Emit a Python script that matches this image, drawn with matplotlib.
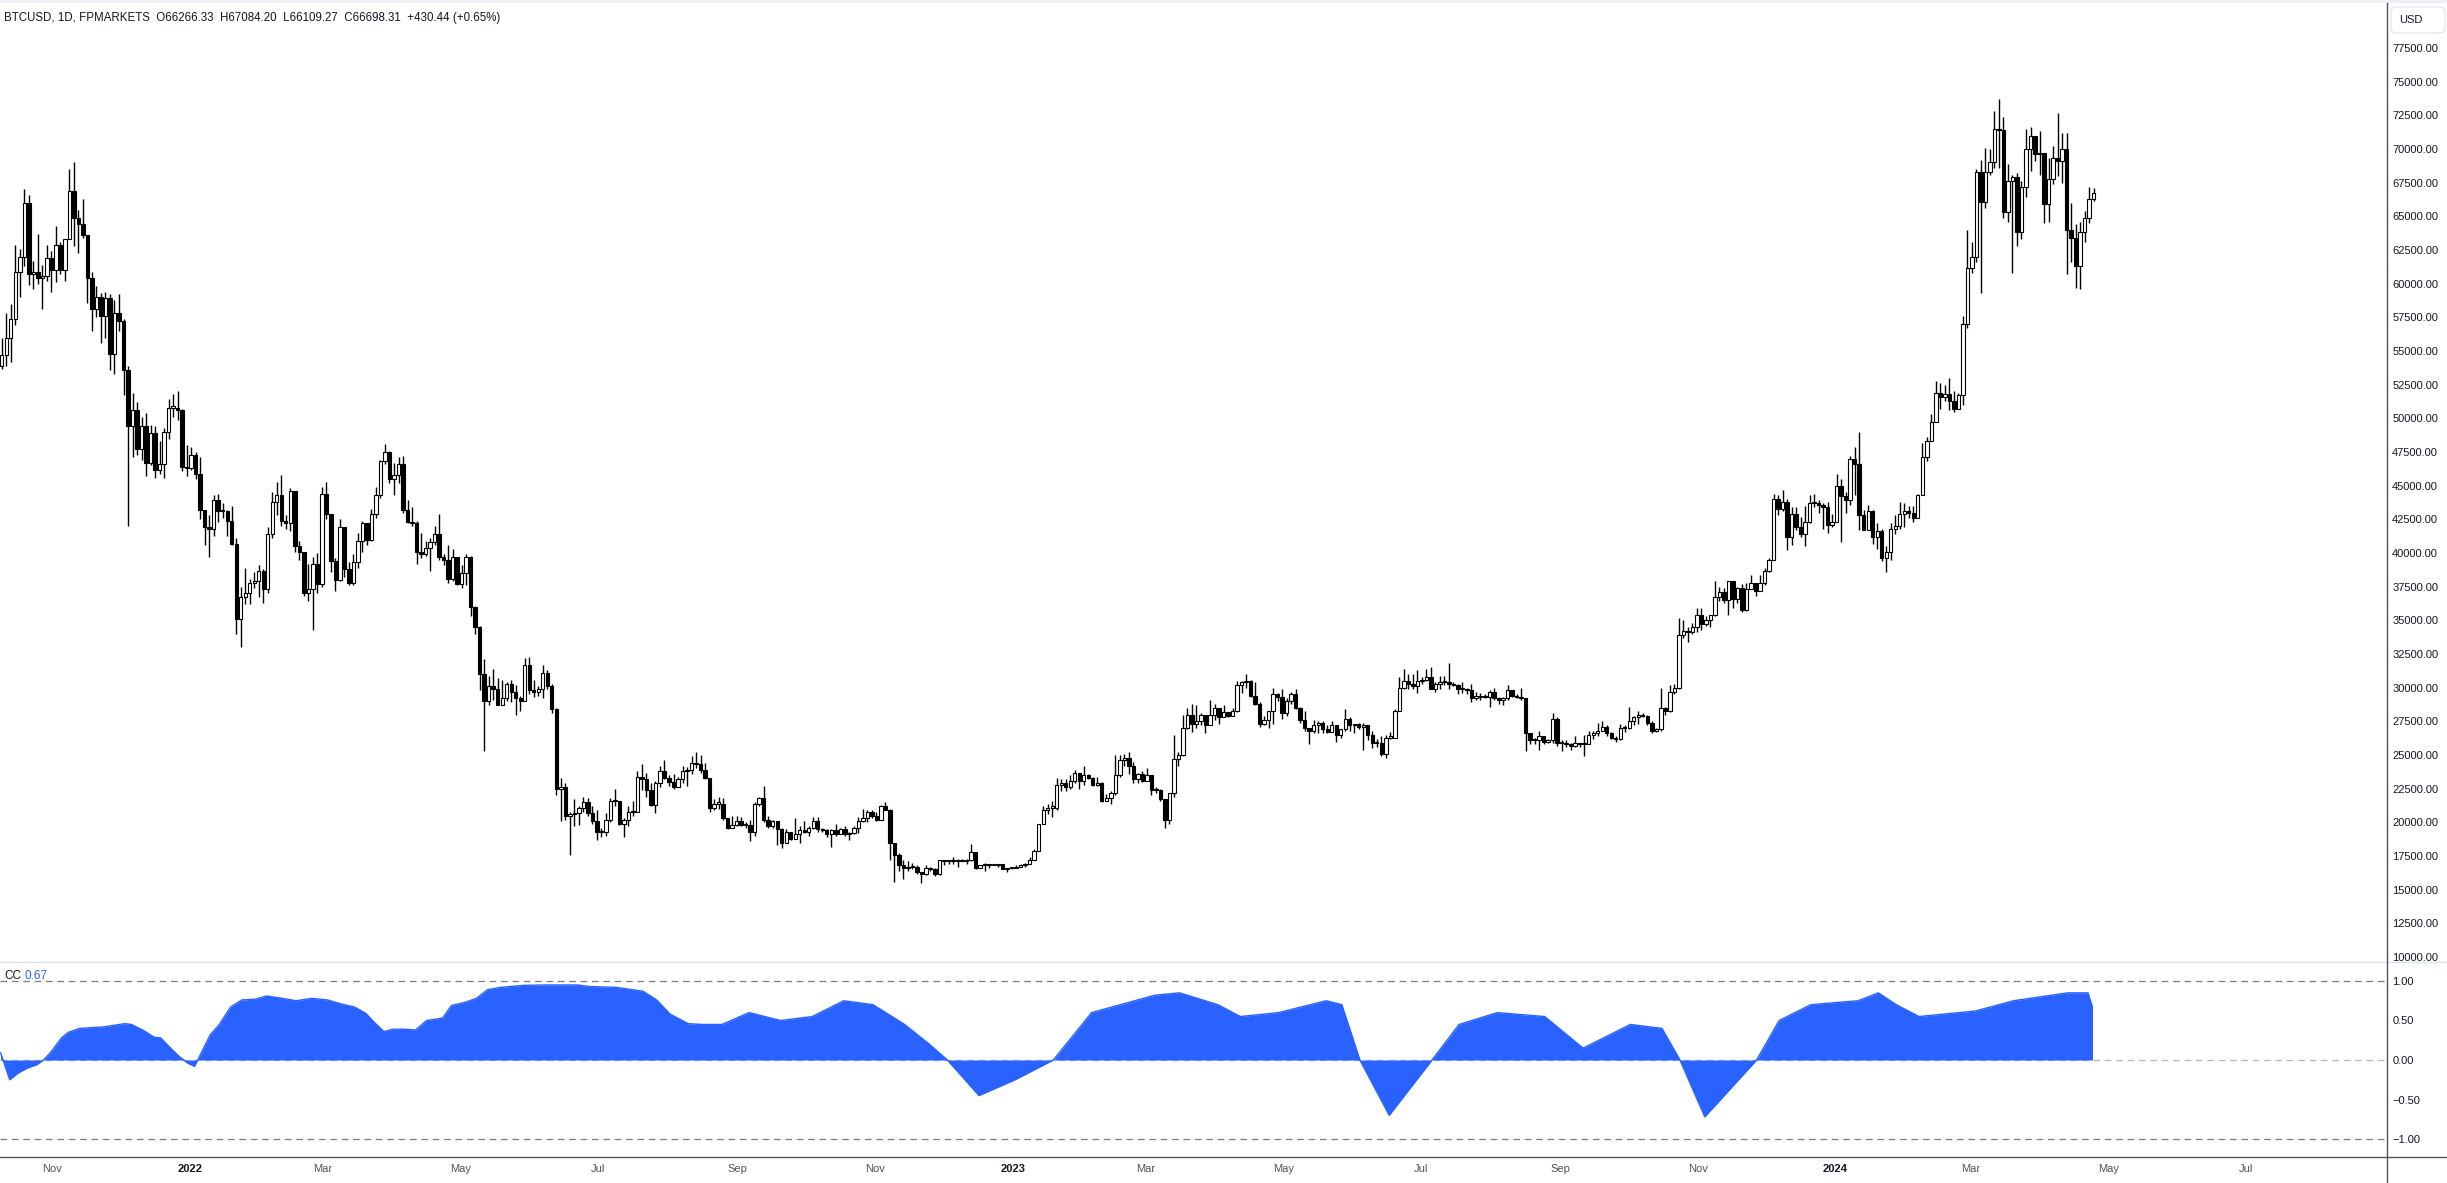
import numpy as np
import pandas as pd
import matplotlib
matplotlib.use("Agg")
import matplotlib.pyplot as plt
import matplotlib.dates as mdates
from matplotlib import font_manager
from matplotlib.lines import Line2D
from matplotlib.patches import Rectangle, FancyBboxPatch
from matplotlib.ticker import FuncFormatter

# BTCUSD candles, one candle per 2 days starting 2021-10-09 (values in thousand USD)
first_open = 53.9
close = [
    54.7, 56.0, 57.4, 60.9, 62.0, 66.0, 60.7, 60.9, 60.4, 60.6, 61.9, 61.0,  # Oct 21
    62.9, 61.0, 63.3, 66.9, 64.9, 64.4, 63.6, 60.4, 58.1, 59.0, 57.6, 58.9, 54.8, 57.8, 57.2,  # Nov
    53.6, 49.4, 50.6, 47.7, 49.4, 46.7, 48.9, 46.2, 46.6, 49.0, 50.8, 50.8, 50.6, 46.4, 46.3,  # Dec
    47.3, 45.9, 43.2, 41.9, 41.8, 43.9, 43.1, 43.1, 42.4, 40.7, 35.1, 36.7, 37.0, 37.8, 37.9, 38.7,  # Jan 22
    37.3, 41.4, 43.8, 44.3, 42.4, 42.2, 44.6, 40.5, 40.1, 37.0, 37.3, 39.2, 37.7, 44.4,  # Feb
    42.9, 39.4, 38.0, 41.9, 38.8, 37.8, 39.3, 40.9, 42.2, 41.0, 42.9, 44.3, 46.8, 47.5, 45.5,  # Mar
    45.8, 46.6, 43.2, 42.3, 42.2, 40.1, 39.9, 40.4, 40.8, 41.4, 39.7, 39.5, 38.1, 39.7, 37.7,  # Apr
    38.5, 39.7, 36.0, 34.5, 31.0, 29.0, 30.1, 29.9, 28.7, 29.2, 30.3, 29.7, 29.2, 29.0, 31.7, 29.8,  # May
    29.7, 29.9, 31.1, 30.1, 28.4, 22.5, 22.6, 20.5, 20.6, 20.7, 21.1, 21.5, 20.7, 20.1, 19.3,  # Jun
    19.3, 20.2, 21.6, 21.6, 19.9, 20.2, 20.8, 20.8, 23.4, 23.2, 22.4, 21.3, 22.9, 23.8, 23.3,  # Jul
    23.0, 22.6, 23.2, 23.8, 23.9, 24.4, 24.3, 23.9, 23.3, 21.1, 21.4, 21.4, 20.3, 19.6, 19.8, 20.1,  # Aug
    19.8, 19.8, 19.3, 21.4, 21.8, 20.2, 19.7, 20.1, 19.5, 18.5, 19.3, 18.8, 19.1, 19.4, 19.3,  # Sep
    19.6, 20.1, 19.5, 19.4, 19.1, 19.4, 19.1, 19.5, 19.1, 19.2, 19.6, 20.1, 20.3, 20.8, 20.5,  # Oct
    20.2, 21.2, 20.9, 18.5, 17.6, 16.8, 16.6, 16.7, 16.7, 16.3, 16.2, 16.6, 16.5, 16.2, 17.2,  # Nov
    17.1, 17.1, 17.1, 17.2, 17.1, 17.2, 17.8, 16.6, 16.8, 16.9, 16.8, 16.8, 16.9, 16.5, 16.6, 16.6,  # Dec
    16.7, 16.8, 16.9, 17.2, 17.9, 19.9, 20.9, 21.1, 21.1, 22.8, 22.9, 22.6, 23.1, 23.7, 23.1,  # Jan 23
    23.5, 23.3, 22.8, 22.9, 21.6, 21.8, 22.2, 23.5, 24.6, 24.8, 24.2, 23.2, 23.6, 23.1,  # Feb
    23.5, 22.4, 22.4, 21.7, 20.2, 22.2, 24.7, 25.0, 27.0, 28.0, 27.3, 27.5, 28.0, 27.2, 28.0, 28.5,  # Mar
    27.8, 28.2, 27.9, 28.3, 30.2, 30.4, 30.5, 29.4, 28.8, 27.3, 27.6, 28.3, 29.5, 29.3, 28.1,  # Apr
    29.0, 29.5, 28.5, 27.6, 27.0, 26.8, 27.2, 27.4, 26.9, 26.7, 27.2, 26.5, 26.9, 27.7, 27.2,  # May
    27.3, 27.1, 27.2, 26.5, 25.9, 25.9, 25.1, 26.3, 26.3, 28.3, 30.0, 30.5, 30.3, 30.1, 30.5,  # Jun
    30.6, 30.8, 29.9, 30.3, 30.4, 30.4, 30.3, 30.2, 29.9, 29.9, 29.8, 29.2, 29.4, 29.3, 29.3, 29.7,  # Jul
    29.2, 29.1, 29.2, 29.8, 29.4, 29.3, 29.2, 26.6, 26.1, 26.1, 26.4, 26.0, 26.1, 27.7, 25.9,  # Aug
    25.9, 25.8, 25.7, 25.9, 25.8, 25.8, 26.5, 26.6, 26.8, 27.1, 26.6, 26.3, 26.2, 27.0, 27.0,  # Sep
    27.5, 27.8, 28.0, 27.9, 27.4, 26.8, 26.9, 28.5, 28.3, 29.7, 30.0, 33.9, 34.2, 34.1, 34.5, 35.4,  # Oct
    34.7, 35.0, 35.4, 36.7, 37.1, 36.5, 37.9, 36.6, 37.4, 35.8, 37.3, 37.8, 37.2, 37.8, 38.7,  # Nov
    39.5, 44.0, 43.3, 43.8, 41.2, 42.9, 41.9, 41.4, 42.3, 43.7, 43.7, 43.6, 43.4, 42.1, 42.3,  # Dec
    45.0, 44.2, 43.9, 47.0, 46.6, 42.8, 41.7, 43.1, 41.2, 41.6, 39.6, 40.1, 41.8, 42.0, 42.9, 43.1,  # Jan 24
    43.0, 42.6, 44.3, 47.1, 48.3, 49.7, 51.9, 51.6, 51.8, 51.3, 50.7, 51.7, 57.0, 61.2,  # Feb
    62.0, 68.3, 66.1, 68.3, 69.0, 71.5, 71.4, 65.3, 67.6, 67.9, 63.8, 67.2, 70.0, 71.0, 69.6, 69.7,  # Mar
    65.9, 67.8, 69.3, 69.1, 70.0, 64.0, 63.4, 61.3, 63.8, 64.9, 66.266, 66.698,  # Apr
]
high = [
    56.0, 57.8, 58.5, 62.9, 62.6, 67.0, 66.6, 61.7, 63.7, 61.4, 62.9, 62.4,
    64.3, 63.1, 63.3, 68.5, 69.0, 65.5, 66.3, 63.6, 60.9, 59.8, 59.3, 59.4, 59.2, 58.8, 59.2,
    57.4, 53.9, 51.9, 51.2, 50.1, 50.4, 49.5, 49.4, 48.3, 49.3, 51.4, 51.8, 52.0, 50.7, 48.0,
    47.9, 47.5, 47.1, 43.1, 42.8, 44.3, 44.4, 43.7, 43.2, 43.5, 41.1, 37.5, 38.9, 38.1, 38.6, 39.1,
    38.8, 41.9, 44.5, 45.3, 45.8, 42.8, 44.8, 44.6, 40.9, 40.1, 39.2, 39.7, 40.0, 44.9,
    45.3, 42.9, 39.6, 42.5, 41.9, 39.3, 39.9, 41.5, 42.4, 42.2, 43.3, 44.9, 46.9, 48.1, 47.6,
    46.7, 47.1, 47.2, 43.9, 43.4, 42.4, 41.5, 40.9, 41.1, 42.0, 42.9, 39.9, 40.6, 40.3, 39.2,
    39.1, 39.9, 39.8, 36.1, 34.6, 32.1, 30.9, 31.4, 30.7, 30.6, 30.4, 30.6, 30.2, 29.4, 32.2, 32.3,
    30.6, 30.1, 31.7, 31.3, 30.3, 28.5, 23.3, 22.9, 20.8, 21.7, 21.2, 21.9, 21.8, 21.2, 20.9,
    19.6, 20.7, 21.8, 22.5, 21.6, 20.3, 21.2, 21.6, 23.8, 24.3, 23.7, 22.9, 23.1, 24.2, 24.6,
    23.5, 23.6, 23.4, 24.2, 24.1, 24.9, 25.2, 25.0, 24.4, 23.2, 21.7, 21.9, 21.8, 20.3, 20.5, 20.5,
    20.4, 20.0, 20.2, 21.5, 21.9, 22.7, 20.5, 20.2, 20.1, 19.6, 19.5, 19.3, 20.3, 19.7, 20.1,
    19.7, 20.4, 20.4, 19.6, 19.5, 19.5, 19.9, 19.6, 19.7, 19.3, 19.7, 20.4, 21.0, 20.9, 20.9,
    20.8, 21.3, 21.5, 21.0, 18.5, 17.7, 17.2, 17.1, 17.0, 16.8, 16.3, 16.8, 16.7, 16.6, 17.2,
    17.2, 17.2, 17.4, 17.3, 17.3, 17.3, 18.4, 17.8, 16.8, 17.0, 16.9, 16.9, 16.9, 16.9, 16.6, 16.6,
    16.8, 16.9, 17.0, 17.4, 18.0, 19.9, 21.2, 21.4, 21.6, 23.3, 23.2, 23.2, 23.5, 23.9, 23.7,
    24.2, 23.6, 23.4, 23.4, 23.0, 22.1, 22.3, 25.0, 25.0, 25.1, 25.2, 24.5, 23.7, 23.8,
    24.0, 23.5, 22.6, 22.5, 21.7, 22.2, 26.5, 25.2, 28.0, 28.5, 28.8, 28.7, 28.1, 28.0, 29.1, 28.8,
    28.5, 28.7, 28.2, 28.5, 30.5, 30.5, 31.0, 30.6, 30.4, 28.9, 27.9, 28.3, 30.0, 29.6, 29.9,
    29.2, 29.7, 29.9, 28.6, 28.3, 27.0, 27.6, 27.5, 27.5, 27.2, 27.5, 27.2, 26.9, 28.4, 27.8,
    27.3, 27.4, 27.4, 27.1, 26.8, 26.2, 26.4, 26.5, 26.7, 28.4, 30.8, 31.4, 31.0, 31.0, 31.3,
    30.8, 31.4, 31.5, 30.4, 30.9, 30.9, 31.8, 30.4, 30.3, 30.4, 30.0, 30.3, 29.7, 29.6, 29.5, 29.8,
    30.0, 29.3, 29.3, 30.2, 29.6, 29.5, 30.0, 29.2, 26.6, 26.3, 26.8, 26.4, 26.2, 28.1, 27.8,
    26.1, 26.1, 25.9, 26.4, 25.9, 26.5, 26.8, 26.8, 27.4, 27.5, 27.2, 26.7, 26.4, 27.3, 27.2,
    28.6, 27.9, 28.3, 28.1, 28.0, 27.5, 27.0, 30.0, 28.6, 30.2, 30.3, 35.2, 35.0, 34.5, 34.8, 35.9,
    35.9, 35.3, 35.4, 37.9, 37.5, 37.4, 37.9, 37.9, 37.5, 37.7, 37.8, 38.4, 37.8, 38.4, 38.9,
    39.6, 44.4, 44.3, 44.7, 44.0, 43.4, 43.4, 42.7, 43.5, 44.3, 44.4, 43.9, 43.7, 43.8, 42.9,
    45.9, 45.5, 44.5, 47.2, 47.9, 49.0, 43.2, 43.6, 43.2, 42.2, 41.8, 40.5, 42.2, 42.8, 43.8, 43.7,
    43.5, 43.5, 44.4, 48.2, 48.6, 50.3, 52.8, 52.6, 52.5, 53.0, 52.0, 51.9, 57.6, 64.0,
    63.1, 68.5, 69.2, 70.1, 70.0, 72.8, 73.7, 72.4, 68.9, 68.1, 68.2, 67.6, 71.5, 71.6, 70.9, 71.3,
    69.7, 69.3, 70.2, 72.7, 71.2, 71.2, 66.0, 64.4, 64.6, 65.4, 67.2, 67.084,
]
low = [
    53.7, 53.9, 54.2, 56.9, 59.0, 61.3, 59.9, 59.6, 60.0, 58.1, 60.2, 59.4,
    60.1, 60.7, 60.2, 63.3, 62.8, 62.3, 63.4, 58.6, 56.5, 57.5, 55.6, 56.0, 53.6, 53.3, 56.5,
    51.7, 42.0, 47.1, 47.3, 46.9, 45.7, 46.5, 45.6, 45.9, 45.6, 48.5, 50.1, 49.9, 46.1, 45.7,
    46.2, 45.5, 42.5, 40.6, 39.7, 41.3, 42.3, 42.6, 41.3, 40.6, 34.0, 33.0, 36.2, 36.2, 37.4, 36.7,
    36.3, 37.0, 41.1, 42.8, 42.0, 41.8, 41.6, 40.1, 39.5, 36.8, 36.4, 34.3, 37.0, 37.5,
    42.5, 38.6, 37.2, 37.9, 38.2, 37.6, 37.6, 38.9, 40.1, 40.6, 40.9, 42.6, 44.1, 46.6, 45.2,
    44.3, 45.2, 43.0, 42.2, 42.0, 39.2, 39.6, 39.8, 38.7, 40.6, 39.5, 39.1, 37.8, 37.9, 37.6,
    37.4, 37.6, 35.3, 34.0, 29.8, 25.3, 28.7, 29.1, 28.7, 28.7, 29.0, 28.9, 28.0, 28.3, 29.0, 29.5,
    29.3, 29.4, 29.2, 29.9, 28.1, 22.0, 20.1, 20.2, 17.6, 19.7, 19.8, 20.8, 20.5, 19.9, 18.7,
    18.9, 19.0, 20.0, 21.2, 19.8, 18.9, 19.7, 20.5, 20.8, 22.4, 21.9, 21.2, 20.7, 22.6, 23.2,
    22.7, 22.5, 22.6, 22.9, 22.7, 23.6, 24.0, 23.7, 23.2, 20.8, 20.9, 21.0, 20.2, 19.5, 19.6, 19.7,
    19.7, 19.6, 18.6, 19.0, 21.2, 20.0, 19.6, 19.6, 18.3, 18.1, 18.5, 18.7, 18.8, 18.5, 19.2,
    19.0, 19.5, 19.3, 19.3, 18.9, 18.2, 19.0, 19.1, 19.0, 18.7, 19.1, 19.2, 20.0, 20.0, 20.3,
    20.1, 20.2, 20.9, 17.2, 15.6, 16.4, 15.8, 16.4, 16.5, 16.2, 15.5, 16.1, 16.4, 16.0, 16.1,
    16.8, 16.9, 16.9, 16.7, 17.1, 16.9, 17.1, 16.5, 16.6, 16.4, 16.6, 16.8, 16.7, 16.5, 16.3, 16.5,
    16.6, 16.7, 16.7, 16.9, 17.2, 17.9, 19.9, 20.6, 20.4, 20.9, 22.3, 22.3, 22.5, 22.9, 22.5,
    22.8, 23.2, 22.7, 22.7, 21.5, 21.6, 21.4, 22.0, 23.4, 24.2, 23.6, 22.9, 22.9, 23.0,
    23.2, 22.0, 22.2, 21.6, 19.6, 19.9, 21.9, 24.2, 24.9, 26.9, 26.7, 27.0, 27.2, 26.6, 27.2, 27.6,
    27.3, 27.8, 27.8, 27.9, 28.2, 29.6, 30.0, 29.3, 28.7, 27.1, 27.2, 27.0, 27.3, 29.0, 27.7,
    27.9, 28.8, 28.4, 27.4, 26.8, 25.8, 26.6, 26.6, 26.6, 26.6, 26.7, 26.0, 26.3, 26.8, 26.8,
    26.6, 26.9, 25.4, 26.1, 25.5, 25.6, 24.9, 24.8, 26.2, 26.3, 28.3, 29.9, 29.9, 29.9, 29.6,
    30.3, 30.5, 29.9, 29.7, 29.9, 30.2, 29.9, 30.1, 29.5, 29.6, 29.5, 28.9, 29.1, 29.1, 29.2, 28.6,
    29.1, 28.8, 28.7, 29.1, 29.3, 29.2, 29.1, 25.3, 25.8, 25.8, 25.4, 25.8, 25.9, 25.9, 25.7,
    25.3, 25.6, 25.4, 25.6, 25.6, 24.9, 25.8, 26.2, 26.4, 26.8, 26.4, 26.2, 26.0, 26.1, 26.7,
    26.9, 27.2, 27.3, 27.8, 27.2, 26.6, 26.7, 26.8, 28.0, 28.2, 29.5, 29.9, 33.7, 33.4, 34.0, 34.1,
    34.3, 34.6, 34.5, 35.3, 36.4, 36.3, 35.4, 35.9, 36.3, 35.6, 35.7, 37.3, 36.8, 37.2, 37.6,
    38.6, 39.5, 42.8, 43.1, 40.2, 40.6, 41.7, 41.2, 40.5, 42.2, 43.4, 43.0, 41.8, 41.5, 41.9,
    42.3, 40.8, 43.0, 43.6, 44.3, 41.7, 41.7, 42.1, 40.7, 40.3, 39.4, 38.6, 39.5, 41.4, 41.8, 41.9,
    42.6, 42.3, 42.6, 44.3, 46.8, 48.3, 49.7, 50.7, 51.3, 50.6, 50.5, 50.8, 51.0, 56.7,
    60.8, 61.6, 59.3, 65.6, 68.1, 68.6, 68.6, 64.9, 64.6, 60.8, 62.8, 63.3, 66.4, 68.4, 69.1, 68.1,
    64.5, 64.6, 67.4, 68.0, 67.5, 60.7, 61.6, 59.7, 59.6, 63.1, 64.5, 66.109,
]

# correlation coefficient pane
cc_dates = [
    "2021-10-09", "2021-10-13", "2021-10-17", "2021-10-21", "2021-10-25", "2021-10-28", "2021-10-31",
    "2021-11-05", "2021-11-08", "2021-11-13", "2021-11-24", "2021-12-03", "2021-12-06", "2021-12-11",
    "2021-12-16", "2021-12-19", "2021-12-22", "2021-12-27", "2021-12-31", "2022-01-03", "2022-01-06",
    "2022-01-10", "2022-01-14", "2022-01-19", "2022-01-24", "2022-01-30", "2022-02-04", "2022-02-11",
    "2022-02-17", "2022-02-24", "2022-03-03", "2022-03-09", "2022-03-15", "2022-03-20", "2022-03-24",
    "2022-03-28", "2022-04-01", "2022-04-06", "2022-04-11", "2022-04-16", "2022-04-23", "2022-04-27",
    "2022-05-03", "2022-05-08", "2022-05-13", "2022-05-19", "2022-05-29", "2022-06-08", "2022-06-22",
    "2022-06-27", "2022-07-09", "2022-07-21", "2022-07-27", "2022-08-02", "2022-08-10", "2022-08-16",
    "2022-08-25", "2022-09-06", "2022-09-20", "2022-10-04", "2022-10-18", "2022-10-31", "2022-11-14",
    "2022-11-25", "2022-12-03", "2022-12-17", "2023-01-02", "2023-01-19", "2023-02-05", "2023-03-05",
    "2023-03-16", "2023-04-02", "2023-04-12", "2023-04-29", "2023-05-20", "2023-05-27", "2023-06-04",
    "2023-06-17", "2023-07-06", "2023-07-18", "2023-08-04", "2023-08-25", "2023-09-11", "2023-10-02",
    "2023-10-16", "2023-10-24", "2023-11-04", "2023-11-27", "2023-12-07", "2023-12-21", "2024-01-11",
    "2024-01-20", "2024-01-28", "2024-02-07", "2024-03-03", "2024-03-20", "2024-04-13", "2024-04-22",
    "2024-04-24",
]
cc_values = [
    0.09, -0.25, -0.16, -0.10, -0.06, 0.00, 0.09,
    0.28, 0.35, 0.40, 0.42, 0.46, 0.45, 0.38,
    0.29, 0.28, 0.19, 0.05, -0.04, -0.08, 0.09,
    0.32, 0.45, 0.67, 0.76, 0.77, 0.81, 0.78,
    0.75, 0.78, 0.76, 0.71, 0.67, 0.59, 0.47,
    0.36, 0.39, 0.39, 0.38, 0.50, 0.53, 0.69,
    0.73, 0.78, 0.89, 0.92, 0.945, 0.95, 0.95,
    0.93, 0.92, 0.87, 0.76, 0.58, 0.46, 0.45,
    0.45, 0.60, 0.50, 0.55, 0.75, 0.70, 0.45,
    0.20, 0.00, -0.45, -0.25, 0.00, 0.60, 0.82,
    0.85, 0.70, 0.55, 0.60, 0.75, 0.70, 0.00,
    -0.70, 0.00, 0.45, 0.60, 0.55, 0.15, 0.45,
    0.40, 0.00, -0.72, 0.00, 0.50, 0.70, 0.75,
    0.85, 0.70, 0.55, 0.62, 0.75, 0.85, 0.85,
    0.67,
]

# x-axis labels (first day of the month)
tick_dates = ["2021-11-01", "2022-01-01", "2022-03-01", "2022-05-01", "2022-07-01", "2022-09-01",
              "2022-11-01", "2023-01-01", "2023-03-01", "2023-05-01", "2023-07-01", "2023-09-01",
              "2023-11-01", "2024-01-01", "2024-03-01", "2024-05-01", "2024-07-01"]
tick_labels = ["Nov", "2022", "Mar", "May", "Jul", "Sep", "Nov", "2023", "Mar", "May", "Jul",
               "Sep", "Nov", "2024", "Mar", "May", "Jul"]

title = "BTCUSD, 1D, FPMARKETS  O66266.33  H67084.20  L66109.27  C66698.31  +430.44 (+0.65%)"
cc_last = "0.67"

# fonts
names = {f.name for f in font_manager.fontManager.ttflist}
fam = [f for f in ["Liberation Sans Narrow", "Liberation Sans", "DejaVu Sans"] if f in names]
plt.rcParams["font.family"] = fam

W, H = 2447, 1183
fig = plt.figure(figsize=(W / 100, H / 100), dpi=100)
fig.patch.set_facecolor("white")

ax = fig.add_axes([0, 1 - 961 / H, 2386 / W, 957 / H])
ax2 = fig.add_axes([0, 1 - 1156 / H, 2386 / W, 195 / H], sharex=ax)

dates = pd.date_range("2021-10-09", periods=len(close), freq="2D")
x = mdates.date2num(dates) + 0.5
c = np.array(close) * 1000
h = np.array(high) * 1000
l = np.array(low) * 1000
o = np.concatenate([[first_open * 1000], c[:-1]])
up = c >= o
bot = np.minimum(o, c)
hgt = np.maximum(np.abs(c - o), 80)

ax.vlines(x, l, h, color="black", lw=1.0, zorder=2)
ax.bar(x[up], hgt[up], bottom=bot[up], width=1.5, facecolor="white",
       edgecolor="black", lw=0.8, zorder=3)
ax.bar(x[~up], hgt[~up], bottom=bot[~up], width=1.5, facecolor="black",
       edgecolor="black", lw=0.8, zorder=3)

ax.set_ylim(9705, 80767)
ax.yaxis.tick_right()
ax.set_yticks(np.arange(10000, 77501, 2500))
ax.yaxis.set_major_formatter(FuncFormatter(lambda v, p: f"{v:.2f}"))
ax.tick_params(axis="y", length=0, pad=4.5, labelsize=8, labelcolor="#131722")
ax.tick_params(axis="x", length=0, labelbottom=False)
for s in ax.spines.values():
    s.set_visible(False)

# CC pane
cx = pd.to_datetime(cc_dates)
cv = np.array(cc_values)
ax2.fill_between(cx, 0, cv, color="#2962ff", lw=0, zorder=2)
ax2.plot(cx, cv, color="#2962ff", lw=1.0, zorder=2)
ax2.axhline(1, color="#787b86", lw=0.9, ls=(0, (5.3, 3.8)), zorder=1)
ax2.axhline(-1, color="#787b86", lw=0.9, ls=(0, (5.3, 3.8)), zorder=1)
ax2.axhline(0, color="#b2b5be", lw=0.9, ls=(0, (5.3, 3.8)), zorder=1)
ax2.set_ylim(-1.215, 1.253)
ax2.yaxis.tick_right()
ax2.set_yticks([1, 0.5, 0, -0.5, -1])
ax2.yaxis.set_major_formatter(FuncFormatter(lambda v, p: f"{v:.2f}".replace("-", "\u2212")))
ax2.tick_params(axis="y", length=0, pad=4.5, labelsize=8, labelcolor="#131722")
for s in ax2.spines.values():
    s.set_visible(False)

ax2.set_xlim(mdates.date2num(pd.Timestamp("2021-10-08 17:00")),
             mdates.date2num(pd.Timestamp("2024-09-01 05:00")))
ax2.set_xticks(mdates.date2num(pd.to_datetime(tick_dates)))
ax2.set_xticklabels(tick_labels)
ax2.tick_params(axis="x", length=0, pad=6, labelsize=8, labelcolor="#50535e")
for t in ax2.get_xticklabels():
    if t.get_text().isdigit():
        t.set_color("#131722")
        t.set_fontweight("bold")

# pane frame, separators and header
fig.add_artist(Rectangle((0, 1 - 3 / H), 1, 3 / H, transform=fig.transFigure,
                         color="#eef0f5", lw=0))
fig.add_artist(Line2D([0, 1], [1 - 961.5 / H] * 2, transform=fig.transFigure,
                      color="#e0e3eb", lw=1.0))
fig.add_artist(Line2D([0, 1], [1 - 1156.5 / H] * 2, transform=fig.transFigure,
                      color="#50535e", lw=1.0))
fig.add_artist(Line2D([2386.5 / W] * 2, [0, 1 - 3 / H], transform=fig.transFigure,
                      color="#50535e", lw=1.0))
fig.add_artist(FancyBboxPatch((2391 / W, 1 - 33 / H), 54 / W, 26 / H,
                              boxstyle="round,pad=0,rounding_size=0.003",
                              transform=fig.transFigure, fc="white", ec="#e0e3eb", lw=0.8))
fig.text(2399 / W, 1 - 20 / H, "USD", ha="left", va="center", fontsize=8, color="#131722")
fig.text(4 / W, 1 - 18 / H, title, ha="left", va="center", fontsize=8.3, color="#131722")
fig.text(4 / W, 1 - 976 / H, "CC", ha="left", va="center", fontsize=8.5, color="#131722")
fig.text(25 / W, 1 - 976 / H, cc_last, ha="left", va="center", fontsize=8.5, color="#2962ff")

fig.savefig("out.png", dpi=100)
